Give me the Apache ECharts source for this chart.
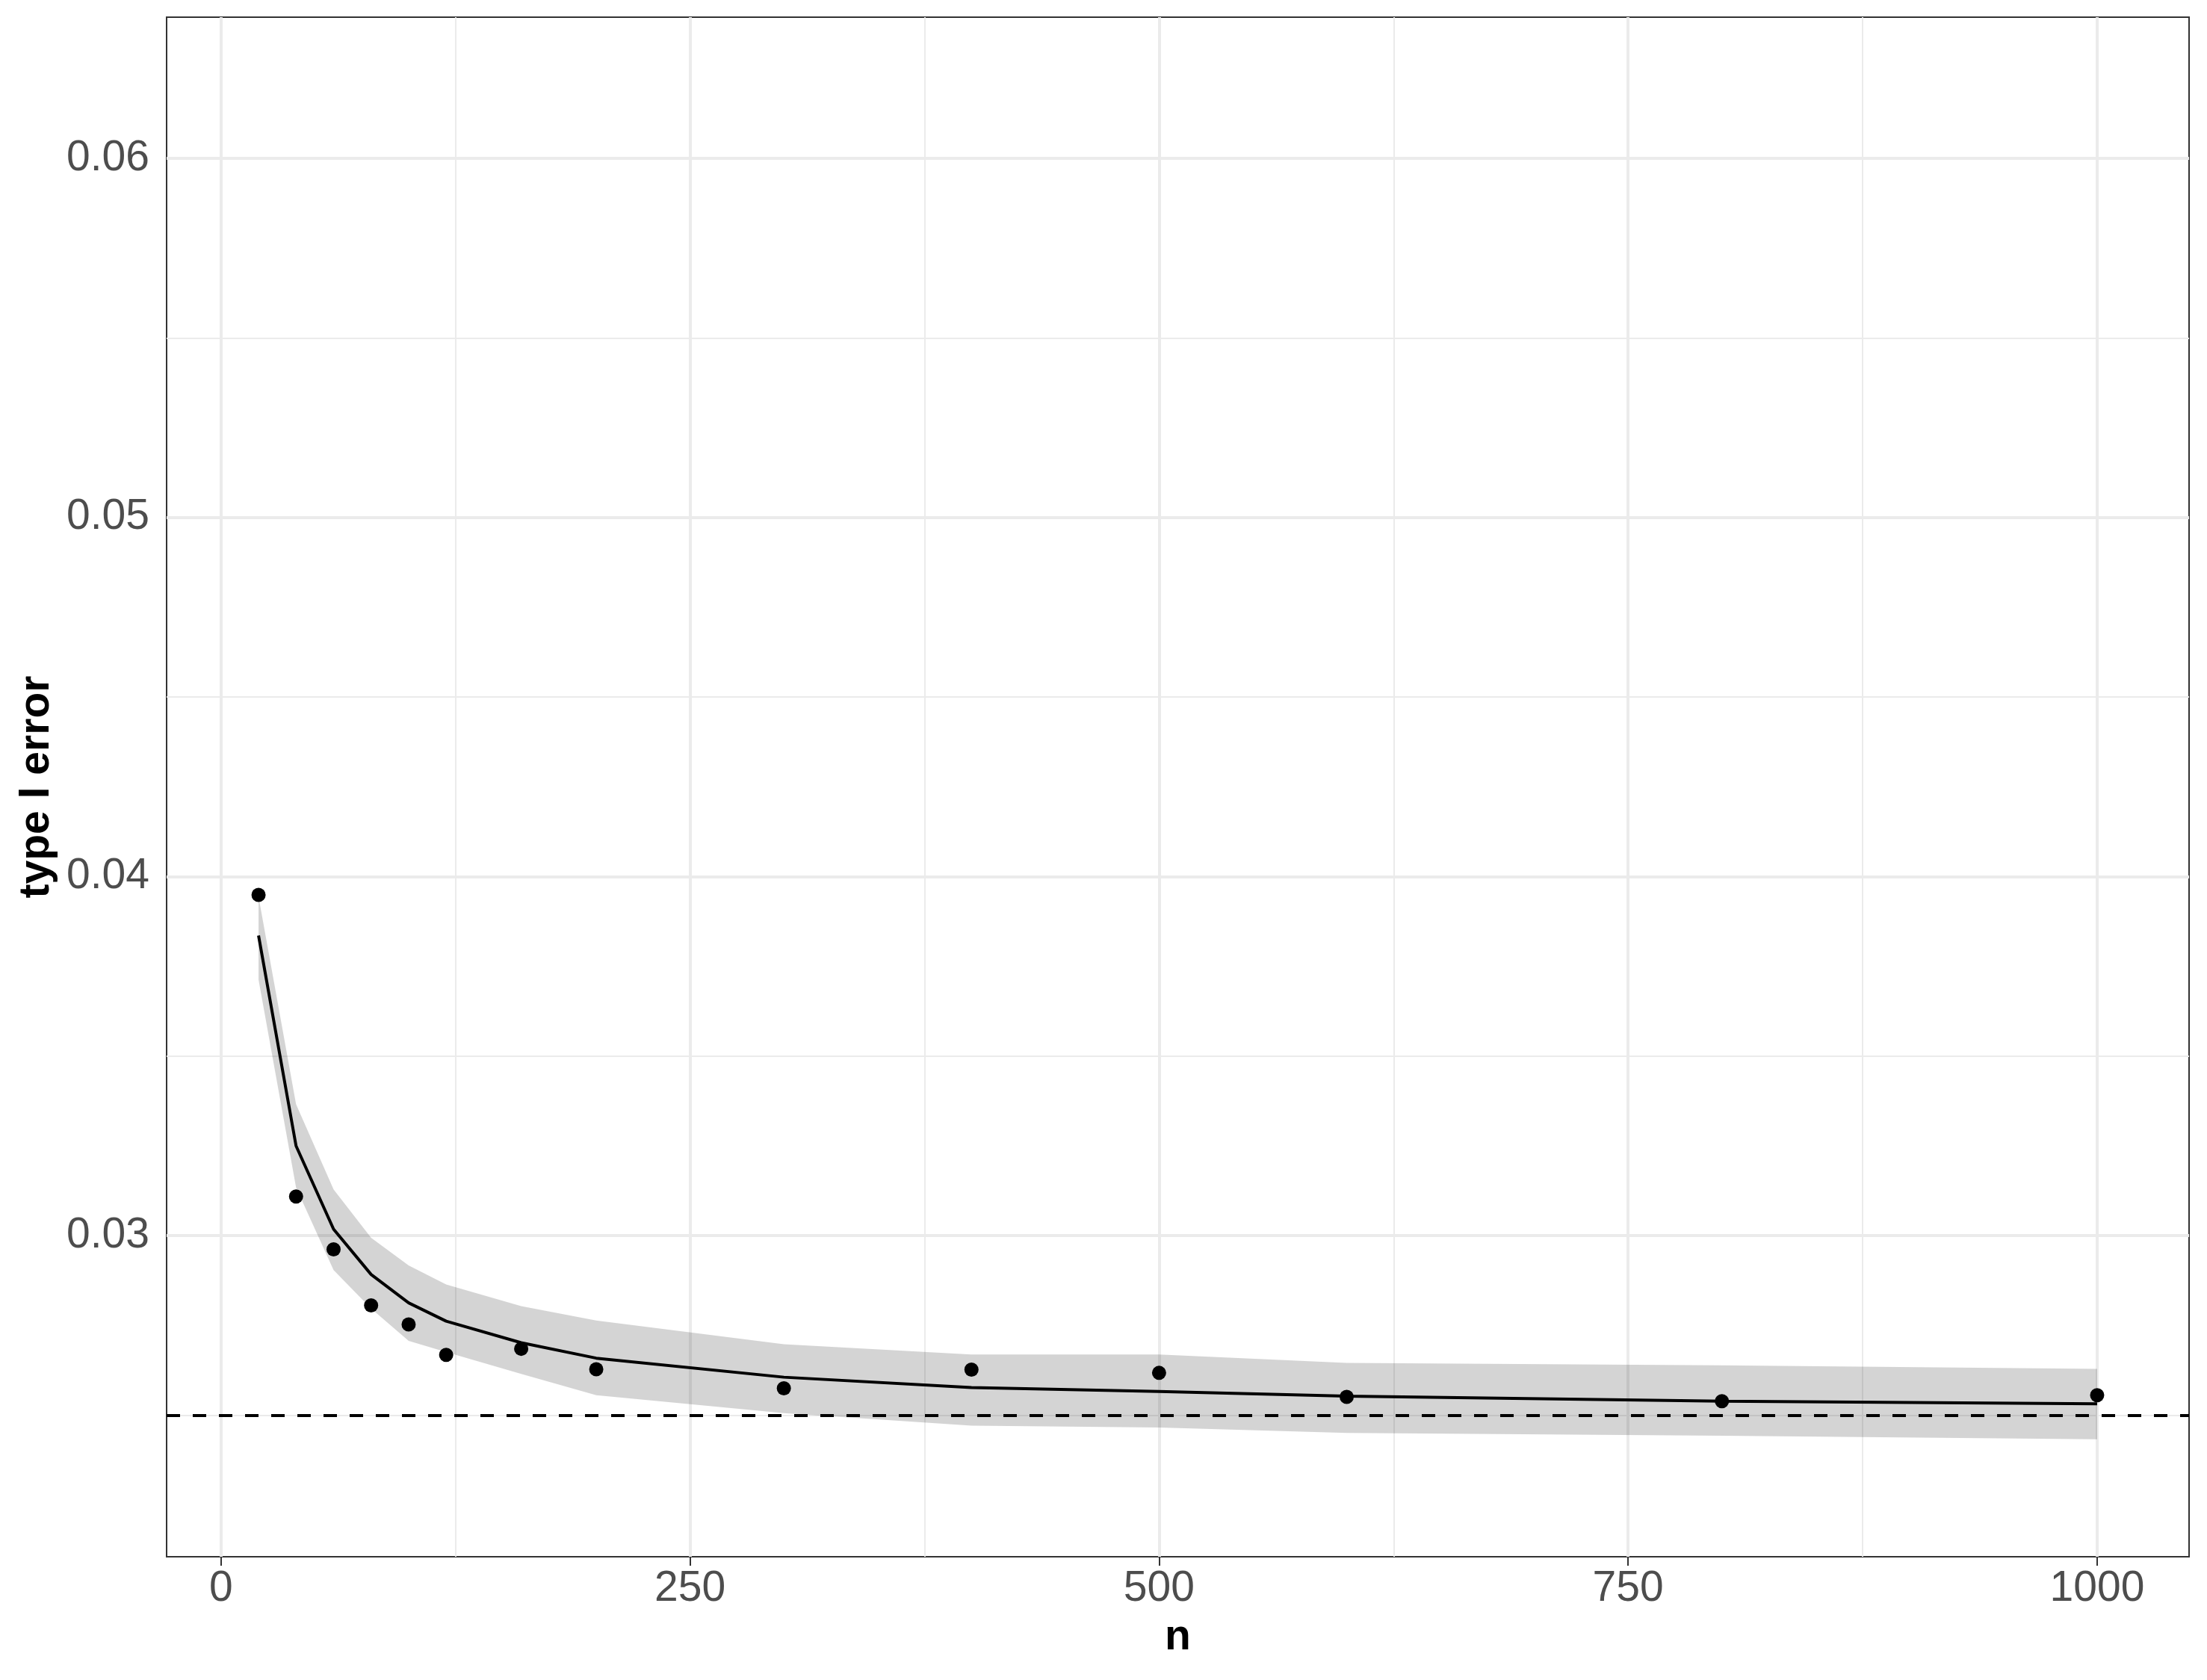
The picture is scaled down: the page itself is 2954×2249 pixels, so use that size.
<!DOCTYPE html>
<html>
<head>
  <meta charset="UTF-8">
  <title>type I error vs n</title>
  <style>
    html, body { margin: 0; padding: 0; background: #fff; }
    #chart { width: 2954px; height: 2249px; }
  </style>
</head>
<body>
  <div id="chart"></div>
  <script src="https://cdn.jsdelivr.net/npm/echarts@6/dist/echarts.min.js"></script>
  <script>
    // sample sizes
    const nValues = [20, 40, 60, 80, 100, 120, 160, 200, 300, 400, 500, 600, 800, 1000];
    // simulated type I error (points)
    const observed = [0.03949, 0.03109, 0.02962, 0.02806, 0.02753, 0.02668, 0.02685, 0.02628, 0.02575, 0.02627, 0.02618, 0.02551, 0.02539, 0.02556];
    // fitted curve
    const fitted = [0.03836, 0.0325, 0.03018, 0.02892, 0.02813, 0.02762, 0.02702, 0.02659, 0.02606, 0.02577, 0.02566, 0.02553, 0.02539, 0.02532];
    // ribbon bounds
    const upper = [0.03944, 0.03366, 0.03129, 0.02994, 0.02917, 0.02864, 0.02804, 0.02764, 0.02698, 0.02669, 0.02669, 0.02646, 0.02639, 0.02629];
    const lower = [0.03713, 0.03134, 0.02904, 0.02797, 0.02707, 0.02676, 0.02615, 0.02556, 0.02506, 0.02471, 0.02466, 0.02451, 0.02443, 0.02433];
    // nominal level
    const nominal = 0.025;

    // axis ticks
    const xTicks = [0, 250, 500, 750, 1000];
    const xMinor = [125, 375, 625, 875];
    const yTicks = [0.03, 0.04, 0.05, 0.06];
    const yMinor = [0.025, 0.035, 0.045, 0.055];

    const font = "'Liberation Sans', Arial, Helvetica, sans-serif";

    const gridLines = []
      .concat(xTicks.map(v => ({ xAxis: v, lineStyle: { width: 4 } })))
      .concat(xMinor.map(v => ({ xAxis: v, lineStyle: { width: 2 } })))
      .concat(yTicks.map(v => ({ yAxis: v, lineStyle: { width: 4 } })))
      .concat(yMinor.map(v => ({ yAxis: v, lineStyle: { width: 2 } })));

    const chart = echarts.init(document.getElementById('chart'));
    chart.setOption({
      animation: false,
      backgroundColor: '#ffffff',
      grid: {
        left: 223, right: 24, top: 23, bottom: 165,
        show: true, borderColor: '#333333', borderWidth: 2,
        backgroundColor: 'transparent'
      },
      xAxis: {
        type: 'value',
        min: -29, max: 1049,
        name: 'n',
        nameLocation: 'middle',
        nameGap: 80,
        nameTextStyle: { fontFamily: font, fontSize: 57, fontWeight: 'bold', color: '#000' },
        axisLine: { show: false },
        axisTick: { show: true, length: 12, customValues: xTicks, lineStyle: { color: '#333333', width: 2 } },
        axisLabel: {
          customValues: xTicks, margin: 15, fontFamily: font, fontSize: 57, color: '#4D4D4D',
          formatter: v => String(v)
        },
        splitLine: { show: false }
      },
      yAxis: {
        type: 'value',
        min: 0.02106, max: 0.06393,
        name: 'type I error',
        nameLocation: 'middle',
        nameGap: 144,
        nameTextStyle: { fontFamily: font, fontSize: 57, fontWeight: 'bold', color: '#000' },
        axisLine: { show: false },
        axisTick: { show: true, length: 12, customValues: yTicks, lineStyle: { color: '#333333', width: 2 } },
        axisLabel: {
          customValues: yTicks, margin: 23, fontFamily: font, fontSize: 57, color: '#4D4D4D',
          formatter: v => v.toFixed(2)
        },
        splitLine: { show: false }
      },
      series: [
        {
          name: 'band',
          type: 'custom',
          z: 2,
          silent: true,
          data: nValues.map((n, i) => [n, lower[i], upper[i]]),
          encode: { x: 0, y: [1, 2] },
          renderItem: function (params, api) {
            if (params.dataIndex !== 0) return null;
            const pts = [];
            for (let i = 0; i < nValues.length; i++) pts.push(api.coord([nValues[i], upper[i]]));
            for (let i = nValues.length - 1; i >= 0; i--) pts.push(api.coord([nValues[i], lower[i]]));
            return { type: 'polygon', shape: { points: pts }, style: { fill: 'rgba(0,0,0,0.17)' } };
          },
          markLine: {
            z: 1,
            silent: true,
            precision: 6,
            symbol: 'none',
            label: { show: false },
            lineStyle: { color: '#EBEBEB', type: 'solid' },
            emphasis: { disabled: true },
            data: gridLines
          }
        },
        {
          name: 'fit',
          type: 'line',
          z: 3,
          data: nValues.map((n, i) => [n, fitted[i]]),
          showSymbol: false,
          symbol: 'none',
          lineStyle: { color: '#000', width: 4 },
          markLine: {
            z: 3,
            silent: true,
            precision: 6,
            symbol: 'none',
            label: { show: false },
            lineStyle: { color: '#000', width: 4, type: [18, 17] },
            emphasis: { disabled: true },
            data: [{ yAxis: nominal }]
          }
        },
        {
          name: 'observed',
          type: 'scatter',
          z: 4,
          data: nValues.map((n, i) => [n, observed[i]]),
          symbol: 'circle',
          symbolSize: 19,
          itemStyle: { color: '#000', opacity: 1 }
        }
      ]
    });
  </script>
</body>
</html>
